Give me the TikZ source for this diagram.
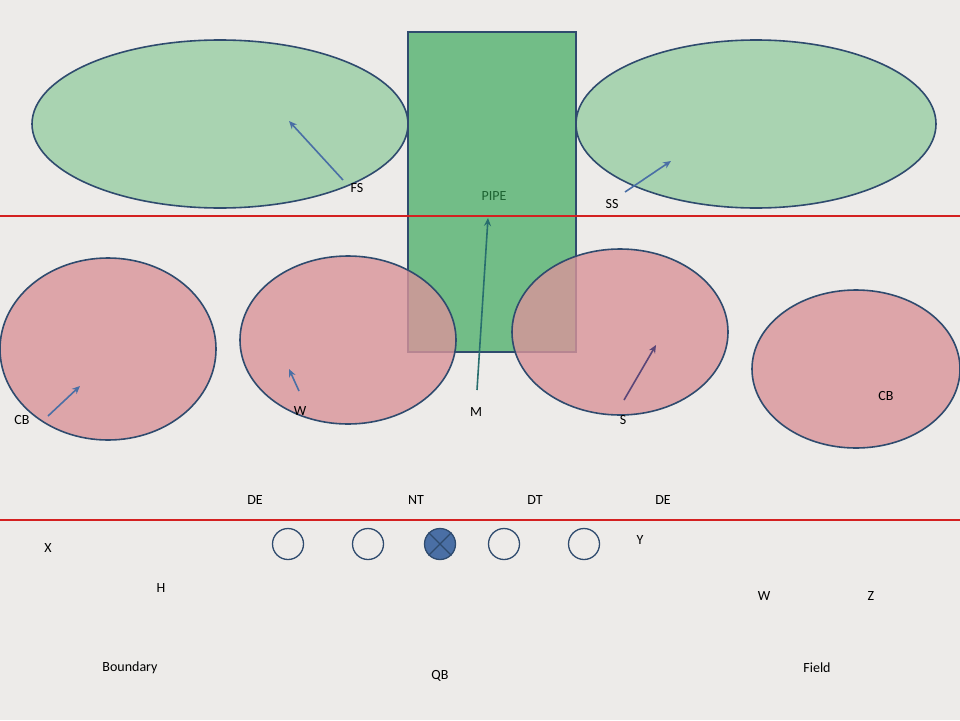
\documentclass[tikz,border=0pt]{standalone}
\usepackage{fontspec}
\setmainfont{Carlito}
\usetikzlibrary{arrows.meta}
\definecolor{bg}{HTML}{EDEBE9}
\definecolor{edge}{HTML}{2F4B6E}
\definecolor{lgreen}{HTML}{A9D3B1}
\definecolor{dgreen}{HTML}{5DB676}
\definecolor{pink}{HTML}{D9949A}
\definecolor{arr}{HTML}{4A6FA5}
\definecolor{redl}{HTML}{D42020}
\tikzset{
 zone/.style={draw=edge,line width=1.6pt},
 mv/.style={draw=arr,line width=1.6pt,-{Stealth[length=8pt,width=7pt]}},
 lbl/.style={font=\fontsize{14}{16}\selectfont,text=black,inner sep=0pt},
 man/.style={circle,draw=edge,line width=1.3pt,minimum size=31pt,inner sep=0pt},
}
\begin{document}
\begin{tikzpicture}[x=1pt,y=-1pt]
\fill[bg] (0,0) rectangle (960,720);
\useasboundingbox (0,0) rectangle (960,720);
\draw[zone,fill=lgreen] (220,124) ellipse [x radius=188,y radius=84];
\draw[zone,fill=lgreen] (756,124) ellipse [x radius=180,y radius=84];
\draw[zone,fill=dgreen,fill opacity=0.85] (408,32) rectangle (576,352);
\draw[redl,line width=1.5pt] (0,216) -- (960,216);
\draw[redl,line width=1.5pt] (0,520) -- (960,520);
\draw[zone,fill=pink,fill opacity=0.8] (108,349) ellipse [x radius=108,y radius=91];
\draw[zone,fill=pink,fill opacity=0.8] (348,340) ellipse [x radius=108,y radius=84];
\draw[zone,fill=pink,fill opacity=0.8] (620,332) ellipse [x radius=108,y radius=83];
\draw[zone,fill=pink,fill opacity=0.8] (856,369) ellipse [x radius=104,y radius=79];
% labels
\node[lbl] (fs) at (357,188) {FS};
\node[lbl] (ss) at (612,204) {SS};
\node[lbl,text={rgb,255:red,30;green,100;blue,50}] (pipe) at (494,196) {PIPE};
\node[lbl] (cb1) at (22,420) {CB};
\node[lbl] (w1) at (300,411) {W};
\node[lbl] (m) at (476,412) {M};
\node[lbl] (s) at (623,420) {S};
\node[lbl] (cb2) at (886,396) {CB};
\node[lbl] at (255,500) {DE};
\node[lbl] at (416,500) {NT};
\node[lbl] at (535,500) {DT};
\node[lbl] at (663,500) {DE};
\node[lbl] at (48,548) {X};
\node[lbl] at (640,540) {Y};
\node[lbl] at (161,588) {H};
\node[lbl] at (764,596) {W};
\node[lbl] at (871,596) {Z};
\node[lbl] at (130,668) {Boundary};
\node[lbl] at (440,676) {QB};
\node[lbl] at (817,668) {Field};
% arrows
\coordinate (fsA) at (343,180); \coordinate (fsB) at (289,121);
\coordinate (ssA) at (625,192); \coordinate (ssB) at (671,161);
\coordinate (mA) at (477,390); \coordinate (mB) at (488,218);
\coordinate (wA) at (299,391); \coordinate (wB) at (289,369);
\coordinate (cA) at (48,416); \coordinate (cB) at (80,386);
\coordinate (sA) at (624,400); \coordinate (sB) at (656,345);
\draw[mv] (fsA) -- (fsB);
\draw[mv] (ssA) -- (ssB);
\draw[mv,draw={rgb,255:red,40;green,110;blue,110}] (mA) -- (mB);
\draw[mv] (wA) -- (wB);
\draw[mv] (cA) -- (cB);
\draw[mv,draw={rgb,255:red,90;green,70;blue,120}] (sA) -- (sB);
% line
\node[man] (o1) at (288,544) {};
\node[man] (o2) at (368,544) {};
\node[man,fill=arr] (c) at (440,544) {};
\node[man] (o3) at (504,544) {};
\node[man] (o4) at (584,544) {};
\draw[edge,line width=1.3pt] (c.north east) -- (c.south west) (c.north west) -- (c.south east);
\end{tikzpicture}
\end{document}
